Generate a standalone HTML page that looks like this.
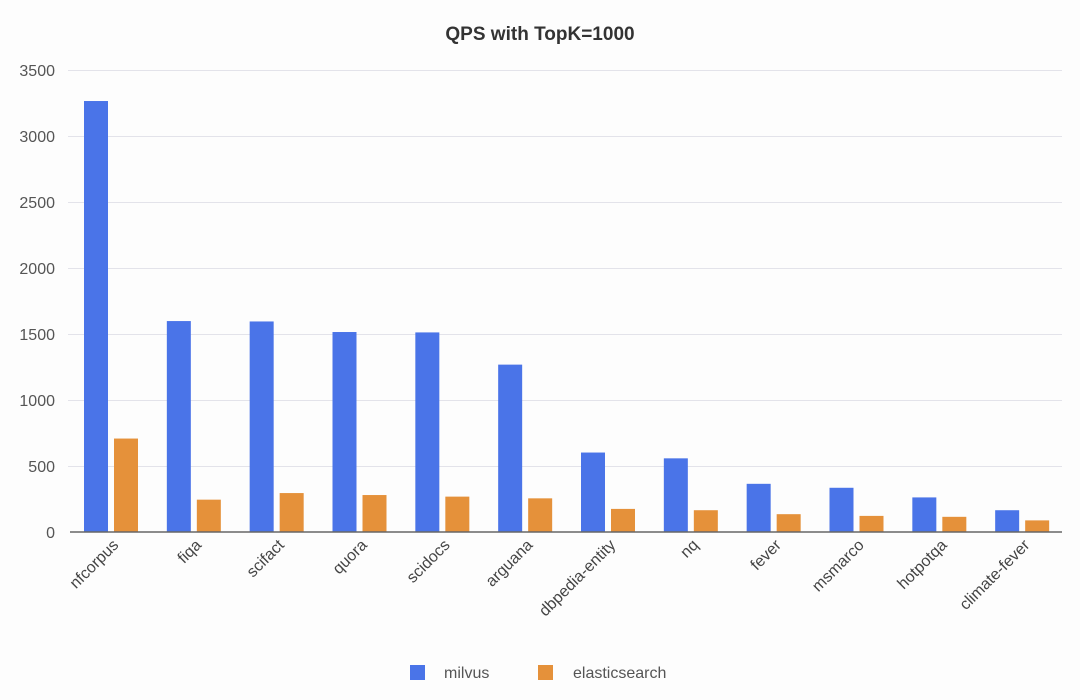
<!DOCTYPE html>
<html><head><meta charset="utf-8"><style>
body{margin:0;background:#fff;}
svg{display:block;font-family:"Liberation Sans",sans-serif;}
</style></head><body>
<svg width="1080" height="700" viewBox="0 0 1080 700">
<rect width="1080" height="700" fill="#fdfdfd"/>
<text x="540" y="40" text-anchor="middle" font-size="19" font-weight="bold" fill="#333">QPS with TopK=1000</text>
<g stroke="#e3e3ea" stroke-width="1">
<line x1="68" x2="1062" y1="70.5" y2="70.5"/>
<line x1="68" x2="1062" y1="136.5" y2="136.5"/>
<line x1="68" x2="1062" y1="202.5" y2="202.5"/>
<line x1="68" x2="1062" y1="268.5" y2="268.5"/>
<line x1="68" x2="1062" y1="334.5" y2="334.5"/>
<line x1="68" x2="1062" y1="400.5" y2="400.5"/>
<line x1="68" x2="1062" y1="466.5" y2="466.5"/>
</g>
<g font-size="16" fill="#555" text-anchor="end">
<text x="55" y="76">3500</text><text x="55" y="142">3000</text><text x="55" y="208">2500</text>
<text x="55" y="274">2000</text><text x="55" y="340">1500</text><text x="55" y="406">1000</text>
<text x="55" y="472">500</text><text x="55" y="538">0</text>
</g>
<g id="bars"></g>
<line x1="70" x2="1062" y1="532" y2="532" stroke="#666" stroke-width="1.5"/>
<g id="labels" font-size="16" fill="#444"></g>
<rect x="410" y="665" width="15" height="15" fill="#4a74e8"/>
<text x="444" y="678" font-size="16" fill="#555">milvus</text>
<rect x="538" y="665" width="15" height="15" fill="#e5913a"/>
<text x="573" y="678" font-size="16" fill="#555">elasticsearch</text>
<script>
var d=[["nfcorpus",3265,708],["fiqa",1598,245],["scifact",1595,295],["quora",1515,280],["scidocs",1512,268],["arguana",1268,255],["dbpedia-entity",602,175],["nq",558,165],["fever",365,135],["msmarco",335,122],["hotpotqa",262,115],["climate-fever",165,88]];
var ns="http://www.w3.org/2000/svg",b=document.getElementById("bars"),l=document.getElementById("labels");
var w=994/12,s=0.132;
d.forEach(function(r,i){
 var x0=68+i*w;
 [[r[1],16,"#4a74e8"],[r[2],46,"#e5913a"]].forEach(function(v){
  var h=v[0]*s,e=document.createElementNS(ns,"rect");
  e.setAttribute("x",x0+v[1]);e.setAttribute("y",532-h);e.setAttribute("width",24);e.setAttribute("height",h);e.setAttribute("fill",v[2]);b.appendChild(e);
 });
 var t=document.createElementNS(ns,"text"),cx=x0+w/2+10,cy=546;
 t.setAttribute("x",cx);t.setAttribute("y",cy);t.setAttribute("text-anchor","end");
 t.setAttribute("transform","rotate(-45 "+cx+" "+cy+")");t.textContent=r[0];l.appendChild(t);
});
</script>
</svg>
</body></html>
